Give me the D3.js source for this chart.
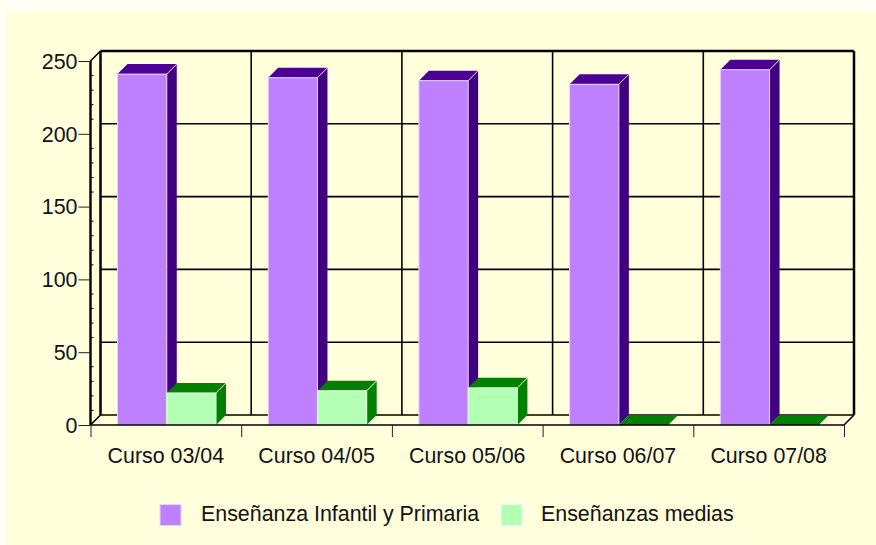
<!DOCTYPE html>
<html><head><meta charset="utf-8"><script src="https://cdnjs.cloudflare.com/ajax/libs/d3/7.8.5/d3.min.js"></script>
<style>html,body{margin:0;padding:0;background:#fffff4}svg{display:block}text{font-family:"Liberation Sans",Arial,sans-serif;fill:#111}</style></head>
<body><svg id="c" width="876" height="545"></svg>
<script>
const categories=["Curso 03/04","Curso 04/05","Curso 05/06","Curso 06/07","Curso 07/08"];
const seriesNames=["Enseñanza Infantil y Primaria","Enseñanzas medias"];
const infantilPrimaria=[241,238.5,236.5,234,244];
const medias=[22,23.5,25.5,0,0];
const yTicks=[0,50,100,150,200,250];
const frontFill=["#bf80ff","#b3ffb3"], topFill=["#4b0096","#008000"], sideFill=["#400080","#008000"], edge=["#e6d4ff","#e8ffe8"];
const dx=10,dy=-10, fs=21.4;
const svg=d3.select("#c");
svg.append("rect").attr("x",7).attr("y",12).attr("width",869).attr("height",533).attr("fill","#ffffdc");
const x=d3.scaleBand().domain(categories).range([90.5,844]);
const sub=d3.scaleBand().domain([0,1]).range([27,125.5]);
const y=d3.scaleLinear().domain([0,250]).range([425,61]);
const yMinor=d3.range(0,251,10);
// back wall grid
const g=svg.append("g").attr("fill","none").attr("stroke","#000");
yTicks.forEach(t=>g.append("line").attr("x1",90.5+dx).attr("x2",844+dx).attr("y1",y(t)+dy).attr("y2",y(t)+dy).attr("stroke-width",t==250?2.5:1.6));
const edges=categories.map(c=>x(c)).concat([844]);
edges.forEach((e,i)=>g.append("line").attr("x1",e+dx).attr("x2",e+dx).attr("y1",y(250)+dy).attr("y2",y(0)+dy).attr("stroke-width",(i==0||i==5)?2.5:1.6));
// floor and side-wall joins
[[90.5,y(250)],[90.5,y(0)],[844,y(0)]].forEach(p=>g.append("line").attr("x1",p[0]).attr("y1",p[1]).attr("x2",p[0]+dx).attr("y2",p[1]+dy).attr("stroke-width",1.6));
// bars
const bars=svg.append("g");
categories.forEach((c,i)=>{
 [infantilPrimaria[i],medias[i]].forEach((v,s)=>{
  const l=x(c)+sub(s),r=l+sub.bandwidth(),t=y(v),b=y(0);
  const e=edge[s];
  if(v>0){
   bars.append("path").attr("d",`M${r},${t}L${r+dx},${t+dy}V${b+dy}L${r},${b}Z`).attr("fill",sideFill[s]);
  }
  bars.append("path").attr("d",`M${l},${t}L${l+dx},${t+dy}H${r+dx}L${r},${t}Z`).attr("fill",topFill[s]);
  if(v>0){
   bars.append("rect").attr("x",l).attr("y",t).attr("width",r-l).attr("height",b-t).attr("fill",frontFill[s]).attr("stroke",e).attr("stroke-width",1);
   bars.append("line").attr("x1",r).attr("y1",t).attr("x2",r+dx).attr("y2",t+dy).attr("stroke",e);
  }
 });
});
// axes
const axY=d3.axisLeft(y).tickValues(yTicks).tickSize(12).tickPadding(1);
const gy=svg.append("g").attr("transform","translate(90.5,0)").call(axY);
const axX=d3.axisBottom(d3.scaleLinear().domain([0,5]).range([90.5,844])).ticks(5).tickSize(12).tickFormat("");
const gx=svg.append("g").attr("transform","translate(0,425)").call(axX);
gy.select(".domain").attr("stroke-width",2.4).attr("d",`M0,${y(250)}V${y(0)}`);
gx.select(".domain").attr("stroke-width",1.6).attr("d","M90.5,0H844");
gy.selectAll("text").attr("font-size",fs).attr("dy","0.34em");
gy.selectAll(".tick line").attr("stroke","#222");
gx.selectAll(".tick line").attr("stroke","#222");
svg.append("g").selectAll("line").data(yMinor.filter(v=>v%50)).join("line").attr("x1",90.5).attr("x2",93.5).attr("y1",d=>y(d)).attr("y2",d=>y(d)).attr("stroke","#000");
svg.append("g").selectAll("text").data(categories).join("text").attr("x",c=>x(c)+x.bandwidth()/2).attr("y",462.5).attr("text-anchor","middle").attr("font-size",fs).text(c=>c);
// legend
const lg=svg.append("g");
lg.append("rect").attr("x",137.5).attr("y",490.5).attr("width",622).attr("height",51).attr("fill","none").attr("stroke","#ffffee");
const lx=[160,501], tx=[201,541];
seriesNames.forEach((n,i)=>{
 lg.append("rect").attr("x",lx[i]).attr("y",504.5).attr("width",21).attr("height",21).attr("fill",frontFill[i]).attr("stroke",edge[i]);
 lg.append("text").attr("x",tx[i]).attr("y",520.5).attr("font-size",fs).text(n);
});
</script></body></html>
